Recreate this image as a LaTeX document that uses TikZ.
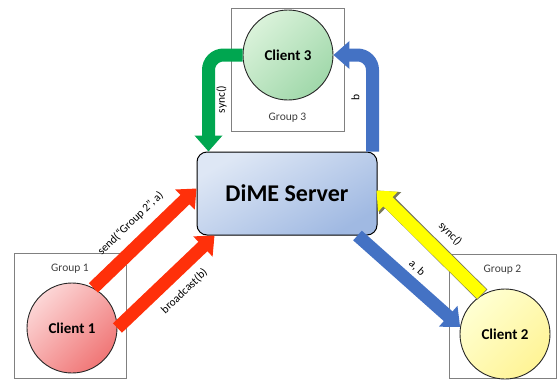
\documentclass[tikz,border=0pt]{standalone}
\usepackage{fontspec}
\setmainfont{Carlito}
\usetikzlibrary{arrows.meta,positioning}
\definecolor{arrred}{RGB}{255,48,10}
\definecolor{arrgreen}{RGB}{0,166,80}
\definecolor{arrblue}{RGB}{68,114,196}
\definecolor{arryellow}{RGB}{255,255,0}
\definecolor{yedge}{RGB}{120,120,90}
\definecolor{boxgrey}{RGB}{128,128,128}
\definecolor{srvtop}{RGB}{222,231,245}
\definecolor{srvbot}{RGB}{160,185,226}
\definecolor{redtop}{RGB}{252,214,214}
\definecolor{redbot}{RGB}{240,118,118}
\definecolor{yeltop}{RGB}{255,255,210}
\definecolor{yelbot}{RGB}{255,244,150}
\definecolor{grntop}{RGB}{218,242,218}
\definecolor{grnbot}{RGB}{160,216,170}

\begin{document}
\begin{tikzpicture}[x=1pt,y=-1pt]
    \tikzset{%
      grpbox/.style={rectangle, draw=boxgrey, line width=0.6pt, inner sep=0pt},
      grplbl/.style={font=\fontsize{11.5}{13}\selectfont, text=black!75, inner sep=2pt},
      client/.style={circle, draw=black!85, line width=0.9pt, minimum size=90pt,
        inner sep=0pt, font=\fontsize{15}{17}\selectfont\bfseries,
        top color=#1top, bottom color=#1bot, shading angle=45},
      srvbox/.style={rectangle, rounded corners=10pt, draw=black, line width=1pt,
        minimum width=180pt, minimum height=83pt, font=\fontsize{24}{28}\selectfont\bfseries,
        top color=srvtop, bottom color=srvbot, shading angle=30},
      blockarr/.style={line width=13pt, -{Triangle[length=16pt,width=27pt]}},
      arrlbl/.style={font=\fontsize{11.5}{13}\selectfont, inner sep=1pt},
    }
    \useasboundingbox (0,0) rectangle (558,381);
    % group boxes
    \node[grpbox, minimum width=112pt, minimum height=125pt] (g1) at (70,315.5) {};
    \node[grpbox, minimum width=107pt, minimum height=124pt] (g2) at (502.5,316) {};
    \node[grpbox, minimum width=113pt, minimum height=123pt] (g3) at (287.5,69.5) {};
    \node[grplbl, below=9pt of g1.north] (g1lbl) {Group 1};
    \node[grplbl, below=9pt of g2.north] (g2lbl) {Group 2};
    \node[grplbl, above=7pt of g3.south] (g3lbl) {Group 3};

    % clients and server
    \node[client=red] (c1) at (72,328) {Client 1};
    \node[client=yel] (c2) at (505,334) {Client 2};
    \node[client=grn] (c3) at (288,55) {Client 3};
    \node[srvbox] (srv) at (287,193.5) {DiME Server};

    % messages
    \draw[blockarr, arrred] (c1.62) -- ([yshift=5pt]srv.west)
      node[arrlbl, midway, sloped, above=8pt, text=black] {send(“Group 2”, a)};
    \draw[blockarr, arrred] (c1.0) -- ([xshift=18pt]srv.south west)
      node[arrlbl, pos=.55, sloped, below=7pt, text=black] {broadcast(b)};
    \draw[blockarr, arrgreen, rounded corners=15pt] (c3.west) -| ([xshift=12pt]srv.north west)
      node[arrlbl, pos=.73, xshift=13pt, rotate=90, text=black] {sync()};
    \draw[blockarr, arrblue, rounded corners=15pt] ([xshift=-5pt]srv.north east) |- (c3.east)
      node[arrlbl, pos=.28, xshift=-17pt, rotate=90, text=black] {b};
    \draw[blockarr, line width=14.4pt, yedge, -{Triangle[length=18pt,width=30pt]}]
      (c2.120) -- ([yshift=3pt]srv.east);
    \draw[blockarr, arryellow, shorten <=0.8pt] (c2.120) -- ([xshift=-1pt,yshift=3pt]srv.east)
      node[arrlbl, pos=.44, sloped, above=8pt, text=black] {sync()};
    \draw[blockarr, arrblue] ([xshift=-20pt]srv.south east) -- (c2.171)
      node[arrlbl, pos=.48, sloped, above=3pt, text=black] {a, b};
\end{tikzpicture}
\end{document}
